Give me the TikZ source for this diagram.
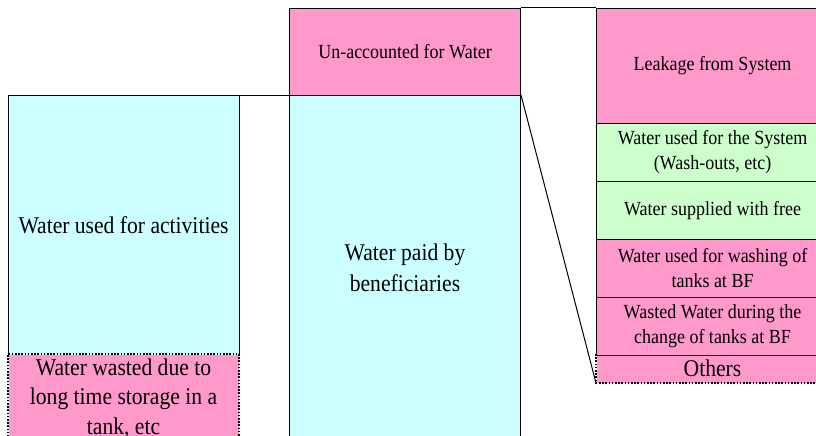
\documentclass[tikz,border=0pt]{standalone}
\usepackage{fontspec}
\setmainfont[FakeStretch=0.9]{Liberation Serif}
\definecolor{aqua}{HTML}{CCFFFF}
\definecolor{rose}{HTML}{FF99CC}
\definecolor{mint}{HTML}{CCFFCC}
\tikzset{
  blk/.style={rectangle, anchor=north west, inner sep=0pt, align=center, line width=1pt},
  solidbox/.style={blk, draw=black},
  bigtxt/.style={font=\fontsize{24}{29.5}\selectfont},
  midtxt/.style={font=\fontsize{24}{31}\selectfont},
  smalltxt/.style={font=\fontsize{20}{25}\selectfont},
  dotline/.style={line width=1.6pt, dash pattern=on 1.6pt off 1.6pt},
  link/.style={line width=1pt}
}
\begin{document}
\begin{tikzpicture}[x=1pt,y=-1pt]
\useasboundingbox (0,0) rectangle (816,436);
\clip (0,0) rectangle (816,436);

% left column: water used on site
\node[blk, fill=aqua, bigtxt, minimum width=230pt, minimum height=259pt] (act) at (8,95) {Water used for activities};
\node[blk, fill=rose, bigtxt, minimum width=230pt, minimum height=88pt] (waste) at (8,354) {Water wasted due to\\long time storage in a\\tank, etc};
\draw[link] (act.south west) -- (act.north west) -- (act.north east) -- (act.south east);
\draw[dotline] (waste.south west) -- (waste.north west) -- (waste.north east) -- (waste.south east);

% middle column
\node[solidbox, fill=rose, smalltxt, minimum width=231pt, minimum height=87pt] (ufw) at (289,8) {Un-accounted for Water};
\node[solidbox, fill=aqua, midtxt, minimum width=231pt, minimum height=345pt] (paid) at (289,95) {Water paid by\\beneficiaries};

% right column: breakdown of un-accounted water
\node[solidbox, fill=rose, smalltxt, minimum width=232pt, minimum height=115pt] (leak) at (596,8) {Leakage from System};
\node[solidbox, fill=mint, smalltxt, minimum width=232pt, minimum height=58pt] (sys) at (596,123) {Water used for the System\\(Wash-outs, etc)};
\node[solidbox, fill=mint, smalltxt, minimum width=232pt, minimum height=58pt] (free) at (596,181) {Water supplied with free};
\node[solidbox, fill=rose, smalltxt, minimum width=232pt, minimum height=58pt] (wash) at (596,239) {Water used for washing of\\tanks at BF};
\node[blk, fill=rose, smalltxt, minimum width=232pt, minimum height=57pt] (chg) at (596,297) {Wasted Water during the\\change of tanks at BF};
\node[blk, fill=rose, bigtxt, minimum width=232pt, minimum height=28pt] (oth) at (596,354) {Others};
\draw[link] (chg.south west) -- (chg.north west) -- (chg.north east) -- (chg.south east) -- cycle;
\draw[dotline] (oth.north west) -- (oth.south west) -- (oth.south east);

% connectors
\draw[link] (act.north east) -- (paid.north west);
\draw[link] (ufw.north east) -- (leak.north west);
\draw[link] (paid.north east) -- (oth.south west);
\end{tikzpicture}
\end{document}
